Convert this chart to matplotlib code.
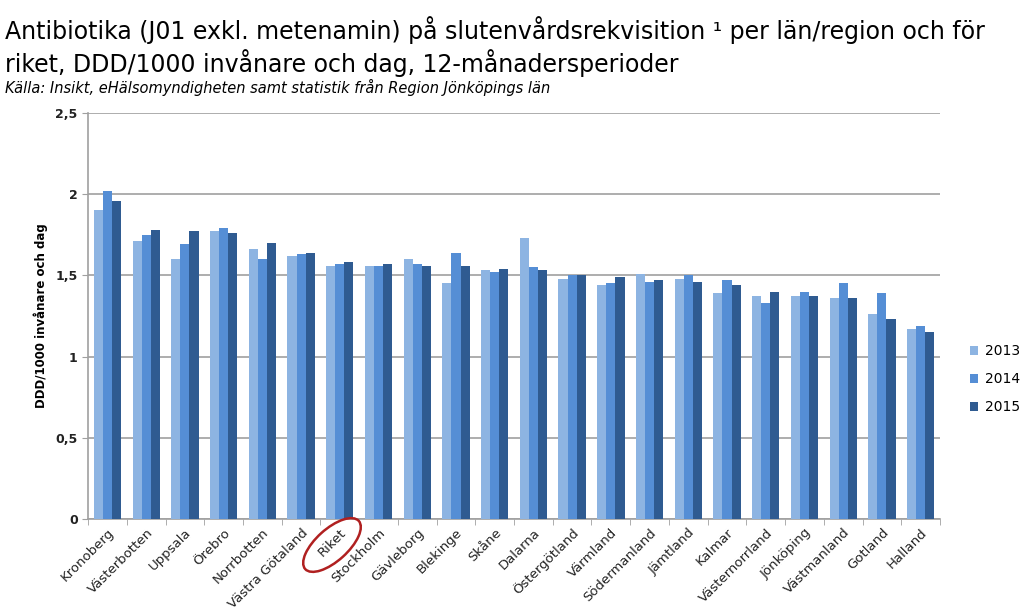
import matplotlib
matplotlib.use("Agg")
import matplotlib.pyplot as plt
import numpy as np
from matplotlib.patches import Ellipse
from matplotlib.transforms import IdentityTransform

regions = ["Kronoberg", "Västerbotten", "Uppsala", "Örebro", "Norrbotten",
           "Västra Götaland", "Riket", "Stockholm", "Gävleborg", "Blekinge",
           "Skåne", "Dalarna", "Östergötland", "Värmland", "Södermanland",
           "Jämtland", "Kalmar", "Västernorrland", "Jönköping", "Västmanland",
           "Gotland", "Halland"]
v2013 = [1.90, 1.71, 1.60, 1.77, 1.66, 1.62, 1.56, 1.56, 1.60, 1.45, 1.53,
         1.73, 1.48, 1.44, 1.51, 1.48, 1.39, 1.37, 1.37, 1.36, 1.26, 1.17]
v2014 = [2.02, 1.75, 1.69, 1.79, 1.60, 1.63, 1.57, 1.56, 1.57, 1.64, 1.52,
         1.55, 1.50, 1.45, 1.46, 1.50, 1.47, 1.33, 1.40, 1.45, 1.39, 1.19]
v2015 = [1.96, 1.78, 1.77, 1.76, 1.70, 1.64, 1.58, 1.57, 1.56, 1.56, 1.54,
         1.53, 1.50, 1.49, 1.47, 1.46, 1.44, 1.40, 1.37, 1.36, 1.23, 1.15]
years = ["2013", "2014", "2015"]
yticks = [0, 0.5, 1, 1.5, 2, 2.5]
ytick_labels = ["0", "0,5", "1", "1,5", "2", "2,5"]

colors = ["#8db4e2", "#558ed5", "#2f5b91"]

fig = plt.figure(figsize=(10.24, 6.10), dpi=100)
ax = fig.add_axes([0.086, 0.149, 0.832, 0.666])

x = np.arange(len(regions))
w = 0.235
for i, (vals, c, lab) in enumerate(zip([v2013, v2014, v2015], colors, years)):
    ax.bar(x + (i - 1) * w, vals, width=w, color=c, label=lab, zorder=3)

ax.set_xlim(-0.5, len(regions) - 0.5)
ax.set_ylim(0, 2.5)
ax.set_yticks(yticks)
ax.set_yticklabels(ytick_labels, fontsize=9, fontweight="bold", color="#222222")
ax.yaxis.grid(True, color="#a0a0a0", linewidth=1.2, zorder=0)
ax.set_axisbelow(True)

ax.set_xticks(x)
ax.set_xticklabels(regions, rotation=45, ha="right", rotation_mode="anchor",
                   fontsize=9.5, color="#222222")
ax.tick_params(axis="x", which="major", length=0, pad=5)
ax.set_xticks(np.arange(-0.5, len(regions), 1), minor=True)
ax.tick_params(axis="x", which="minor", length=4, color="#a0a0a0", direction="out")
ax.tick_params(axis="y", length=4, color="#a0a0a0", direction="out")

for s in ["top", "right"]:
    ax.spines[s].set_visible(False)
for s in ["left", "bottom"]:
    ax.spines[s].set_color("#a0a0a0")
    ax.spines[s].set_linewidth(1.2)

ax.set_ylabel("DDD/1000 invånare och dag", fontsize=8.5, fontweight="bold",
              labelpad=5)

fig.legend(loc="upper left", bbox_to_anchor=(0.935, 0.456), frameon=False,
           fontsize=10, handlelength=0.6, handleheight=0.6,
           labelspacing=1.0, handletextpad=0.5)

fig.text(0.005, 0.950, "Antibiotika (J01 exkl. metenamin) på slutenvårdsrekvisition ¹ per län/region och för",
         fontsize=17, ha="left", va="center")
fig.text(0.005, 0.897, "riket, DDD/1000 invånare och dag, 12-månadersperioder",
         fontsize=17, ha="left", va="center")
fig.text(0.005, 0.856, "Källa: Insikt, eHälsomyndigheten samt statistik från Region Jönköpings län",
         fontsize=10.5, style="italic", ha="left", va="center")

ell = Ellipse((332, 610 - 545), width=72, height=32, angle=42,
              transform=IdentityTransform(), fill=False,
              edgecolor="#b02020", linewidth=1.8)
fig.patches.append(ell)

fig.savefig("out.png", dpi=100)
